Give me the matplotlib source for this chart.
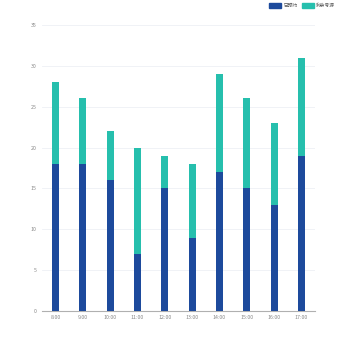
import matplotlib
matplotlib.use("Agg")
import matplotlib.pyplot as plt
from matplotlib.patches import Patch

plt.rcParams['font.family'] = ['Noto Sans CJK SC', 'DejaVu Sans']

# Data
hours = ["8:00", "9:00", "10:00", "11:00", "12:00", "13:00", "14:00", "15:00", "16:00", "17:00"]
booked = [18, 18, 16, 7, 15, 9, 17, 15, 13, 19]
remaining = [10, 8, 6, 13, 4, 9, 12, 11, 10, 12]
series_names = ["已预约", "剩余号源"]

blue = "#1d4a9c"
teal = "#26bfad"

fig = plt.figure(figsize=(3.5, 3.5), dpi=100)
ax = fig.add_axes([0.12, 0.111, 0.78, 0.818])

x = range(len(hours))
ax.bar(x, booked, width=0.26, color=blue, zorder=3)
ax.bar(x, remaining, width=0.26, bottom=booked, color=teal, zorder=3)

ax.set_xlim(-0.5, len(hours) - 0.5)
ax.set_ylim(0, 35)
ax.set_yticks(range(0, 36, 5))
ax.set_xticks(list(x))
ax.set_xticklabels(hours)

ax.grid(axis="y", color="#eef0f5", linewidth=0.6, zorder=0)
for s in ["top", "right", "left"]:
    ax.spines[s].set_visible(False)
ax.spines["bottom"].set_color("#b0b0b0")
ax.spines["bottom"].set_linewidth(0.8)
ax.tick_params(axis="y", length=0, labelsize=3.8, labelcolor="#888888", pad=4)
ax.tick_params(axis="x", length=0, labelsize=3.8, labelcolor="#888888", pad=3)

handles = [Patch(color=blue), Patch(color=teal)]
fig.legend(handles, series_names, loc="upper right", bbox_to_anchor=(0.97, 1.005),
           ncol=2, frameon=False, fontsize=3.4, handlelength=2.6, handleheight=1.3,
           columnspacing=1.0, handletextpad=0.4, labelcolor="#555555")

fig.savefig("out.png", dpi=100)
